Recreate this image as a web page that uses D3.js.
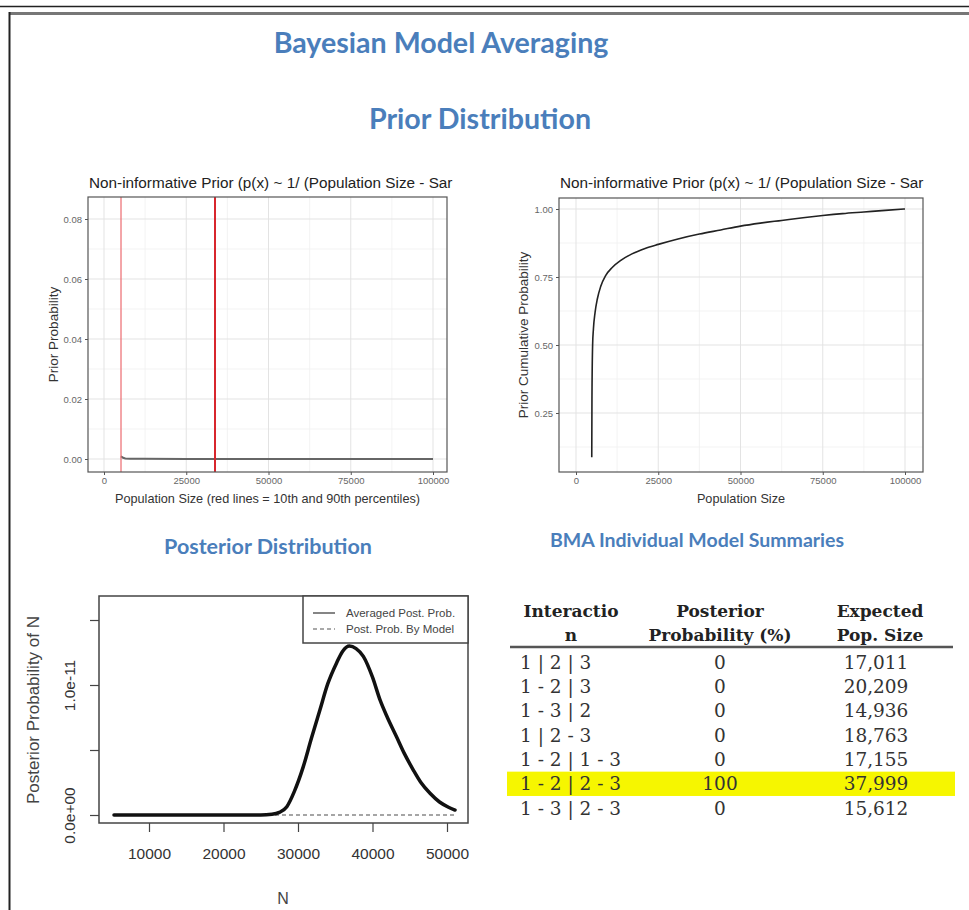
<!DOCTYPE html>
<html>
<head>
<meta charset="utf-8">
<script src="https://cdn.jsdelivr.net/npm/d3@7/dist/d3.min.js"></script>
<style>
  body { margin: 0; background: #fff; }
  svg { display: block; }
</style>
</head>
<body>
<svg id="page" width="969" height="910"></svg>
<script>
// Data ------------------------------------------------------------------------------------------------------
// Prior density (top left)
const priorX = [5100, 5400, 5800, 6500, 8000, 12000, 25000, 50000, 75000, 100000];
const priorY = [0.0009, 0.0007, 0.0004, 0.0002, 0.0001, 0.00005, 0.00002, 0.00001, 0.00001, 0.00001];
const percentileLines = [5170, 33740];

// Prior cumulative (top right)
const cdfX = [4790, 4850, 5050, 5300, 5800, 6500, 7500, 9000, 11000, 13500, 17000, 21000, 25000,
              31000, 37500, 44000, 50000, 56000, 62500, 69000, 75000, 81000, 87500, 94000, 100000];
const cdfY = [0.087, 0.30, 0.50, 0.56, 0.62, 0.67, 0.715, 0.755, 0.785, 0.81, 0.835, 0.855, 0.87,
              0.89, 0.908, 0.923, 0.937, 0.948, 0.958, 0.968, 0.976, 0.983, 0.989, 0.995, 1.0];

// Posterior (bottom left)
const postN = [5300, 10000, 15000, 20000, 25000, 26500, 27500, 28500, 29500, 30700, 31800, 32950, 34000,
               35180, 36000, 36900, 37800, 38770, 40000, 41010, 42000, 43240, 44300, 45480, 46500,
               47720, 49000, 50200, 51074];
const postP = [0, 0, 0, 0, 0, 0.05e-12, 0.2e-12, 0.64e-12, 1.8e-12, 3.7e-12, 5.9e-12, 8.1e-12, 10.1e-12,
               11.7e-12, 12.6e-12, 13.0e-12, 12.8e-12, 12.2e-12, 10.6e-12, 8.85e-12, 7.5e-12, 6.0e-12,
               4.7e-12, 3.46e-12, 2.5e-12, 1.67e-12, 1.0e-12, 0.6e-12, 0.38e-12];
const modelN = [5300, 51074];
const modelP = [0, 0];

// Ticks and labels
const priorXTicks = [0, 25000, 50000, 75000, 100000];
const priorXMinor = [12500, 37500, 62500, 87500];
const densYTicks = [0, 0.02, 0.04, 0.06, 0.08];
const densYMinor = [0.01, 0.03, 0.05, 0.07];
const cdfYTicks = [0.25, 0.50, 0.75, 1.00];
const cdfYMinor = [0.125, 0.375, 0.625, 0.875];
const postXTicks = [10000, 20000, 30000, 40000, 50000];
const postYTicks = [0, 5e-12, 1e-11, 1.5e-11];
const postYLabels = ["0.0e+00", "", "1.0e-11", ""];
const legendLabels = ["Averaged Post. Prob.", "Post. Prob. By Model"];
// title as it shows (cut off in the original)
const priorTitle = "Non-informative Prior (p(x) ~ 1/ (Population Size - Sar";

// Table
const tableHeaders = [["Interactio", "n"], ["Posterior", "Probability (%)"], ["Expected", "Pop. Size"]];
const interactions = ["1 | 2 | 3", "1 - 2 | 3", "1 - 3 | 2", "1 | 2 - 3", "1 - 2 | 1 - 3", "1 - 2 | 2 - 3", "1 - 3 | 2 - 3"];
const postProbs = [0, 0, 0, 0, 0, 100, 0];
const popSizes = [17011, 20209, 14936, 18763, 17155, 37999, 15612];

// SVG -------------------------------------------------------------------------------------------------------
const svg = d3.select("#page");
const blue = "#4a7ebb";
const sans = "'Liberation Sans', Arial, sans-serif";

// Page frame
svg.append("line")
.attr("x1", 0).attr("x2", 969).attr("y1", 6.5).attr("y2", 6.5)
.attr("stroke", "#222").attr("stroke-width", 1.5);
svg.append("line")
.attr("x1", 9).attr("x2", 969).attr("y1", 13.5).attr("y2", 13.5)
.attr("stroke", "#777").attr("stroke-width", 3);
svg.append("line")
.attr("x1", 9.5).attr("x2", 9.5).attr("y1", 12).attr("y2", 910)
.attr("stroke", "#222").attr("stroke-width", 2);

// Headings
const heading = (text, x, y, size) => svg.append("text")
.attr("x", x).attr("y", y)
.attr("text-anchor", "middle")
.attr("font-family", "Lato, 'Open Sans', sans-serif")
.attr("font-weight", 700)
.attr("font-size", size)
.attr("fill", blue)
.text(text);

heading("Bayesian Model Averaging", 441, 53, 28.6);
heading("Prior Distribution", 480, 129, 28.6);
heading("Posterior Distribution", 268, 554, 21.5);
heading("BMA Individual Model Summaries", 697, 547, 19.5);

// ggplot style panel ----------------------------------------------------------------------------------------
const drawGgPanel = cfg => {
  const g = svg.append("g");
  const x = d3.scaleLinear().domain([0, 100000]).range(cfg.xRange);
  const y = d3.scaleLinear().domain(cfg.yDomain).range(cfg.yRange);
  const [left, right, top, bottom] = cfg.box;

  g.append("rect")
  .attr("x", left).attr("y", top)
  .attr("width", right - left).attr("height", bottom - top)
  .attr("fill", "#fff");

  // Minor grid
  g.selectAll(".minor-x").data(priorXMinor).join("line")
  .attr("x1", d => x(d)).attr("x2", d => x(d)).attr("y1", top).attr("y2", bottom)
  .attr("stroke", "#f0f0f0").attr("stroke-width", 0.8);
  g.selectAll(".minor-y").data(cfg.yMinor.filter(d => y(d) > top && y(d) < bottom)).join("line")
  .attr("y1", d => y(d)).attr("y2", d => y(d)).attr("x1", left).attr("x2", right)
  .attr("stroke", "#f0f0f0").attr("stroke-width", 0.8);

  // Major grid
  g.selectAll(".major-x").data(priorXTicks).join("line")
  .attr("x1", d => x(d)).attr("x2", d => x(d)).attr("y1", top).attr("y2", bottom)
  .attr("stroke", "#e3e3e3").attr("stroke-width", 1);
  g.selectAll(".major-y").data(cfg.yTicks).join("line")
  .attr("y1", d => y(d)).attr("y2", d => y(d)).attr("x1", left).attr("x2", right)
  .attr("stroke", "#e3e3e3").attr("stroke-width", 1);

  cfg.draw(g, x, y);

  // Panel border
  g.append("rect")
  .attr("x", left).attr("y", top)
  .attr("width", right - left).attr("height", bottom - top)
  .attr("fill", "none").attr("stroke", "#555").attr("stroke-width", 1.2);

  // Axes
  const xAxis = g.append("g")
  .attr("transform", `translate(0,${bottom})`)
  .call(d3.axisBottom(x).tickValues(priorXTicks).tickSize(3).tickPadding(2).tickFormat(d3.format("d")));
  const yAxis = g.append("g")
  .attr("transform", `translate(${left},0)`)
  .call(d3.axisLeft(y).tickValues(cfg.yTicks).tickSize(3).tickPadding(3).tickFormat(d3.format(".2f")));
  [xAxis, yAxis].forEach(a => {
    a.select(".domain").remove();
    a.selectAll(".tick line").attr("stroke", "#555");
    a.selectAll(".tick text")
    .attr("font-family", sans).attr("font-size", 9.5).attr("fill", "#666");
  });

  // Title
  svg.append("text")
  .attr("x", left + 1).attr("y", 188)
  .attr("font-family", sans).attr("font-size", 15.3).attr("fill", "#222")
  .text(priorTitle);

  // Axis titles
  svg.append("text")
  .attr("x", (left + right) / 2).attr("y", 503)
  .attr("text-anchor", "middle")
  .attr("font-family", sans).attr("font-size", 12.7).attr("fill", "#333")
  .text(cfg.xTitle);
  svg.append("text")
  .attr("transform", `translate(${cfg.yTitleX},${(top + bottom) / 2}) rotate(-90)`)
  .attr("text-anchor", "middle")
  .attr("font-family", sans).attr("font-size", 13.5).attr("fill", "#333")
  .text(cfg.yTitle);
};

// Prior density
drawGgPanel({
  box: [88, 447, 197, 472],
  xRange: [104, 433],
  yDomain: [0, 0.08],
  yRange: [459, 219],
  yTicks: densYTicks,
  yMinor: densYMinor,
  xTitle: "Population Size (red lines = 10th and 90th percentiles)",
  yTitle: "Prior Probability",
  yTitleX: 58,
  draw: (g, x, y) => {
    g.append("path")
    .datum(priorX.map((d, i) => [d, priorY[i]]))
    .attr("d", d3.line().x(d => x(d[0])).y(d => y(d[1])))
    .attr("fill", "none").attr("stroke", "#666").attr("stroke-width", 2);
    g.selectAll(".pct").data(percentileLines).join("line")
    .attr("x1", d => x(d)).attr("x2", d => x(d)).attr("y1", 197).attr("y2", 472)
    .attr("stroke", (d, i) => i === 0 ? "#ec6a6f" : "#d8262d")
    .attr("stroke-width", (d, i) => i === 0 ? 1.2 : 2);
  }
});

// Prior cumulative
drawGgPanel({
  box: [559, 923, 198, 472],
  xRange: [576, 905],
  yDomain: [0.25, 1],
  yRange: [413, 209],
  yTicks: cdfYTicks,
  yMinor: cdfYMinor,
  xTitle: "Population Size",
  yTitle: "Prior Cumulative Probability",
  yTitleX: 528,
  draw: (g, x, y) => {
    g.append("path")
    .datum(cdfX.map((d, i) => [d, cdfY[i]]))
    .attr("d", d3.line().curve(d3.curveMonotoneX).x(d => x(d[0])).y(d => y(d[1])))
    .attr("fill", "none").attr("stroke", "#222").attr("stroke-width", 1.6);
  }
});

// Posterior plot (base graphics look) -----------------------------------------------------------------------
const pBox = {left: 99, right: 468, top: 596, bottom: 823};
const px = d3.scaleLinear().domain([10000, 50000]).range([149, 447]);
const py = d3.scaleLinear().domain([0, 1e-11]).range([815, 685]);
const gp = svg.append("g");

gp.append("path")
.datum(modelN.map((d, i) => [d, modelP[i]]))
.attr("d", d3.line().x(d => px(d[0])).y(d => py(d[1])))
.attr("fill", "none").attr("stroke", "#888").attr("stroke-width", 1.5).attr("stroke-dasharray", "4,3");

gp.append("path")
.datum(postN.map((d, i) => [d, postP[i]]))
.attr("d", d3.line().curve(d3.curveMonotoneX).x(d => px(d[0])).y(d => py(d[1])))
.attr("fill", "none").attr("stroke", "#111").attr("stroke-width", 3.5)
.attr("stroke-linecap", "round");

gp.append("rect")
.attr("x", pBox.left).attr("y", pBox.top)
.attr("width", pBox.right - pBox.left).attr("height", pBox.bottom - pBox.top)
.attr("fill", "none").attr("stroke", "#444").attr("stroke-width", 1.5);

const pxAxis = gp.append("g")
.attr("transform", `translate(0,${pBox.bottom})`)
.call(d3.axisBottom(px).tickValues(postXTicks).tickSize(9).tickPadding(16).tickFormat(d3.format("d")));
const pyAxis = gp.append("g")
.attr("transform", `translate(${pBox.left},0)`)
.call(d3.axisLeft(py).tickValues(postYTicks).tickSize(9).tickFormat((d, i) => postYLabels[i]));
[pxAxis, pyAxis].forEach(a => {
  a.select(".domain").remove();
  a.selectAll(".tick line").attr("stroke", "#444").attr("stroke-width", 1.2);
  a.selectAll(".tick text")
  .attr("font-family", sans).attr("font-size", 15.5).attr("fill", "#333");
});
pyAxis.selectAll(".tick text")
.attr("x", 0).attr("dy", 0)
.attr("text-anchor", "middle")
.attr("transform", "translate(-24,0) rotate(-90)");

svg.append("text")
.attr("x", 283).attr("y", 904)
.attr("text-anchor", "middle")
.attr("font-family", sans).attr("font-size", 16).attr("fill", "#444")
.text("N");
svg.append("text")
.attr("transform", `translate(39,710) rotate(-90)`)
.attr("text-anchor", "middle")
.attr("font-family", sans).attr("font-size", 17).attr("fill", "#444")
.text("Posterior Probability of N");

// Legend
const legend = gp.append("g");
legend.append("rect")
.attr("x", 303).attr("y", pBox.top)
.attr("width", pBox.right - 303).attr("height", 47)
.attr("fill", "#fff").attr("stroke", "#444").attr("stroke-width", 1.5);
legendLabels.forEach((label, i) => {
  const ly = 613 + i * 16;
  legend.append("line")
  .attr("x1", 313).attr("x2", 335).attr("y1", ly).attr("y2", ly)
  .attr("stroke", i === 0 ? "#333" : "#555").attr("stroke-width", 1.2)
  .attr("stroke-dasharray", i === 0 ? null : "4,3");
  legend.append("text")
  .attr("x", 346).attr("y", ly + 4)
  .attr("font-family", sans).attr("font-size", 11.5).attr("fill", "#444")
  .text(label);
});

// Table -----------------------------------------------------------------------------------------------------
const serif = "'DejaVu Serif', Georgia, serif";
const rowY = d3.scaleBand().domain(interactions).range([650, 820.3]);
const colX = [520, 720, 876];
const headX = [571, 720, 880];
const fmt = d3.format(",");
const gt = svg.append("g");

const topIndex = postProbs.indexOf(d3.max(postProbs));
gt.append("rect")
.attr("x", 507).attr("y", rowY(interactions[topIndex]))
.attr("width", 448).attr("height", rowY.bandwidth())
.attr("fill", "#f6f600");

tableHeaders.forEach((lines, c) => {
  lines.forEach((t, k) => {
    gt.append("text")
    .attr("x", headX[c]).attr("y", 617 + k * 24)
    .attr("text-anchor", "middle")
    .attr("font-family", serif).attr("font-weight", 700).attr("font-size", 17)
    .attr("fill", "#222")
    .text(t);
  });
});

gt.append("line")
.attr("x1", 510).attr("x2", 953).attr("y1", 647).attr("y2", 647)
.attr("stroke", "#555").attr("stroke-width", 2.5);

const rows = gt.selectAll(".row").data(interactions).join("g")
.attr("transform", d => `translate(0,${rowY(d) + rowY.bandwidth() / 2 + 6.5})`);
rows.append("text")
.attr("x", colX[0])
.attr("font-family", serif).attr("font-size", 18.5).attr("fill", "#333")
.text(d => d);
rows.append("text")
.attr("x", colX[1]).attr("text-anchor", "middle")
.attr("font-family", serif).attr("font-size", 18.5).attr("fill", "#333")
.text((d, i) => postProbs[i]);
rows.append("text")
.attr("x", colX[2]).attr("text-anchor", "middle")
.attr("font-family", serif).attr("font-size", 18.5).attr("fill", "#333")
.text((d, i) => fmt(popSizes[i]));
</script>
</body>
</html>
